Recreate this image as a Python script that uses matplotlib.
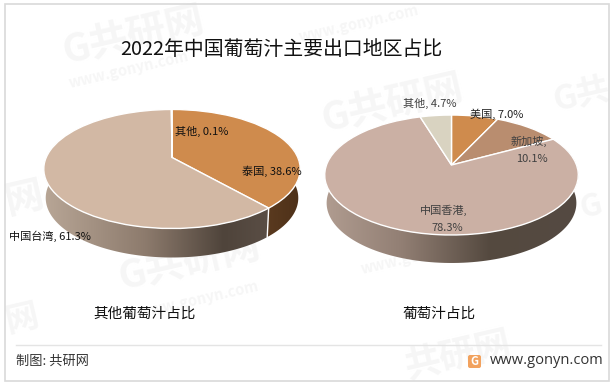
import numpy as np
import matplotlib
matplotlib.use("Agg")
import matplotlib.pyplot as plt
from matplotlib.transforms import Transform
from matplotlib.patches import Rectangle, Polygon, FancyBboxPatch
from matplotlib.colors import to_rgb

plt.rcParams['font.family'] = ['Noto Sans CJK SC', 'DejaVu Sans']

title = "2022年中国葡萄汁主要出口地区占比"
left_names = ["泰国", "中国台湾", "其他"]
left_values = [38.6, 61.3, 0.1]
left_colors = ["#CF8B4D", "#D2B8A4", "#D9D3C1"]
right_names = ["美国", "新加坡", "中国香港", "其他"]
right_values = [7.0, 10.1, 78.3, 4.7]
right_colors = ["#CF8B4D", "#B98D6F", "#CBB0A4", "#D9D3C1"]
left_caption = "其他葡萄汁占比"
right_caption = "葡萄汁占比"
source = "制图: 共研网"
site = "www.gonyn.com"


class Tilt(Transform):
    """Perspective view of the unit pie, giving pixel coordinates."""
    input_dims = output_dims = 2
    is_separable = False
    has_inverse = False

    def __init__(self, a, b, k, x0, y0):
        super().__init__()
        self.a, self.b, self.k, self.x0, self.y0 = a, b, k, x0, y0

    def transform_non_affine(self, v):
        v = np.asarray(v, float)
        d = 1 + self.k * v[:, 1]
        return np.column_stack([self.x0 + self.a * v[:, 0] / d,
                                self.y0 - self.b * v[:, 1] / d])


fig = plt.figure(figsize=(6.13, 3.85), dpi=100)
ax = fig.add_axes([0, 0, 1, 1])


def gradient(stops, n=256):
    xs = np.linspace(0, 1, n)
    pos = [s[0] for s in stops]
    cols = np.array([to_rgb(s[1]) for s in stops])
    return np.dstack([np.interp(xs, pos, cols[:, i]) for i in range(3)])


def draw_pie(values, colors, tilt, depth, wall_stops):
    wedges, _ = ax.pie(values, colors=colors, startangle=90, counterclock=False,
                       radius=1, center=(0, 0),
                       wedgeprops=dict(edgecolor="white", linewidth=1.0))
    for w in wedges:
        w.set_transform(tilt + ax.transData)
        w.set_zorder(5)
    edges = np.cumsum([0] + list(values)) / np.sum(values) * 360
    for i in range(len(values)):
        lo = max(edges[i], 72)
        hi = min(edges[i + 1], 288)
        if hi <= lo or wall_stops[i] is None:
            continue
        th = np.radians(np.linspace(lo, hi, 120))
        top = tilt.transform_non_affine(np.column_stack([np.sin(th), np.cos(th)]))
        bot = top.copy()
        bot[:, 0] = tilt.x0 + (bot[:, 0] - tilt.x0) * 0.985
        bot[:, 1] += depth
        poly = np.vstack([top, bot[::-1]])
        patch = Polygon(poly, closed=True, transform=ax.transData,
                        facecolor="none", edgecolor="none")
        ax.add_patch(patch)
        x_a, x_b = poly[:, 0].min(), poly[:, 0].max()
        im = ax.imshow(gradient(wall_stops[i]),
                       extent=(x_a, x_b, poly[:, 1].max(), poly[:, 1].min()),
                       aspect="auto", zorder=3, interpolation="bilinear")
        im.set_clip_path(patch)
        if 90 < edges[i + 1] < 270:
            ax.plot([top[-1, 0], bot[-1, 0]], [top[-1, 1], bot[-1, 1]],
                    color="white", lw=1.0, zorder=4)


# watermarks, behind everything
wm = "#f6f6f6"
wm_big = [("G共研网", 66, 64, 28), ("G共", 556, 110, 24), ("G共研网", 122, 290, 28),
          ("G共研网", 325, 132, 28), ("共研网", 408, 378, 26), ("G", 582, 218, 22),
          ("网", 8, 214, 28), ("网", 8, 332, 24)]
wm_small = [(70, 88), (300, 42), (140, 318), (362, 274)]
for s, x, y, fs in wm_big:
    ax.text(x, y, s, color=wm, fontsize=fs, fontweight="bold",
            rotation=13, ha="left", va="baseline", rotation_mode="anchor", zorder=0)
for x, y in wm_small:
    ax.text(x, y, "www.gonyn.com", color=wm, fontsize=10.5, fontweight="bold",
            rotation=13, ha="left", va="baseline", rotation_mode="anchor", zorder=0)

left_tilt = Tilt(125.8, 57.3, 0.193, 172, 157.5)
right_tilt = Tilt(125, 58.3, 0.167, 451.5, 165)
draw_pie(left_values, left_colors, left_tilt, 29,
         [[(0, "#5a3a1f"), (1, "#4e3119")],
          [(0, "#b8a696"), (0.45, "#8d7b6d"), (0.8, "#4f443b"), (1, "#5a4e45")],
          None])
draw_pie(right_values, right_colors, right_tilt, 28,
         [None, None,
          [(0, "#b09c90"), (0.3, "#927f74"), (0.65, "#54493f"), (1, "#544a42")],
          None])

# labels: (text, x, y, colour)
lab = [("其他, 0.1%", 175, 131, "#111111"), ("泰国, 38.6%", 242, 171, "#111111"),
       ("中国台湾, 61.3%", 9, 236, "#111111"),
       ("其他, 4.7%", 403, 103, "#404040"), ("美国, 7.0%", 470, 114, "#222222"),
       ("新加坡,", 511, 141, "#404040"), ("10.1%", 516, 159, "#404040"),
       ("中国香港,", 420, 210, "#404040"), ("78.3%", 431, 228, "#404040")]
for s, x, y, c in lab:
    ax.text(x, y, s, fontsize=8, color=c, ha="left", va="center", zorder=7)

ax.text(120, 49, title, fontsize=14.3, color="#111111", ha="left", va="center", zorder=7)
ax.text(145, 314, left_caption, fontsize=10.5, color="#111111", ha="center", va="center", zorder=7)
ax.text(439, 314, right_caption, fontsize=10.5, color="#111111", ha="center", va="center", zorder=7)
ax.text(16, 361, source, fontsize=9.5, color="#333333", ha="left", va="center", zorder=7)
ax.text(490, 361, site, fontsize=10.5, color="#333333", ha="left", va="center",
        family=["Open Sans", "DejaVu Sans"], zorder=7)

# footer rule, logo, frame
ax.plot([16, 601], [345, 345], color="#e4e4e4", lw=1, zorder=2)
ax.add_patch(FancyBboxPatch((468, 355), 13, 13, boxstyle="round,pad=0,rounding_size=2",
                            facecolor="#F2A25E", edgecolor="none", zorder=6))
ax.text(474.5, 361.5, "G", color="white", fontsize=8, fontweight="bold",
        ha="center", va="center", zorder=7)
ax.add_patch(Rectangle((4.5, 4), 604.5, 377, facecolor="none", edgecolor="#d9d9d9",
                       lw=1.2, zorder=8))

ax.set_aspect("auto")
ax.set_xlim(0, 613)
ax.set_ylim(385, 0)
ax.axis("off")
fig.savefig("out.png", dpi=100)
